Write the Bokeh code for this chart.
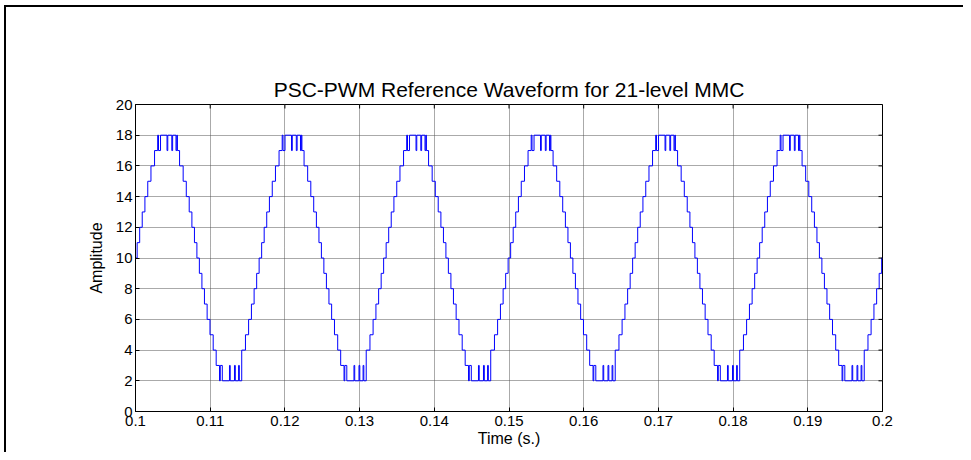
from bokeh.plotting import figure
from bokeh.models import Range1d, FixedTicker
from bokeh.embed import file_html
from bokeh.resources import INLINE

# ---------------- data ----------------
title_text = "PSC-PWM Reference Waveform for 21-level MMC"
x_label = "Time (s.)"
y_label = "Amplitude"

x_ticks = [0.1, 0.11, 0.12, 0.13, 0.14, 0.15, 0.16, 0.17, 0.18, 0.19, 0.2]
x_tick_labels = ["0.1", "0.11", "0.12", "0.13", "0.14", "0.15",
                 "0.16", "0.17", "0.18", "0.19", "0.2"]
y_ticks = [0, 2, 4, 6, 8, 10, 12, 14, 16, 18, 20]

t_start = 0.1          # s
t_end = 0.2            # s
y_min = 0
y_max = 20
period_ms = 16.667     # six identical cycles between 0.1 and 0.2 s
n_cycles = 6

# one cycle of the staircase: step start times (ms from cycle start) and level
cycle_offsets_ms = [
    0.00, 0.22, 0.56, 0.90, 1.26, 1.64, 2.07, 2.55,          # rising 10 -> 17
    2.97, 3.08, 3.35, 4.22, 4.32, 4.86, 4.97, 5.42, 5.53, 5.61,  # PWM at peak
    5.90, 6.38, 6.80, 7.19, 7.55, 7.89, 8.22, 8.55, 8.89, 9.23, 9.59, 9.97, 10.40,  # falling
    10.80, 11.25, 11.35, 11.62, 12.58, 12.68, 13.25, 13.36, 13.80, 13.90,  # PWM at trough
    14.22, 14.72, 15.14, 15.52, 15.88, 16.22, 16.55,          # rising 4 -> 10
]
cycle_levels = [
    10, 11, 12, 13, 14, 15, 16, 17,
    18, 17, 18, 17, 18, 17, 18, 17, 18, 17,
    16, 15, 14, 13, 12, 11, 10, 9, 8, 7, 6, 5, 4,
    3, 2, 3, 2, 3, 2, 3, 2, 3, 2,
    4, 5, 6, 7, 8, 9, 10,
]

# ---------------- build the step series ----------------
xs, ys = [], []
for c in range(n_cycles):
    for off, lev in zip(cycle_offsets_ms, cycle_levels):
        xs.append(t_start + (c * period_ms + off) / 1000.0)
        ys.append(lev)
xs.append(t_end)
ys.append(cycle_levels[-1])

FONT = "Liberation Sans"
W, H = 963, 452

# outer figure frame: top and left edge lines drawn as the element background
frame_bg = ("linear-gradient(#000, #000) 4px 5px / 100% 2px no-repeat, "
            "linear-gradient(#000, #000) 4px 5px / 2px 100% no-repeat, #fff")

p = figure(width=W, height=H, output_backend="svg", toolbar_location=None,
           x_range=Range1d(t_start, t_end), y_range=Range1d(y_min, y_max),
           min_border_left=135, min_border_right=81, min_border_top=104,
           min_border_bottom=41,
           styles={"background": frame_bg})

p.step(xs, ys, mode="after", line_color="#0000ff", line_width=1)

# inward box ticks on top and right edges (positions from the tick lists)
tick_dx = (t_end - t_start) * 4 / 747.0
tick_dy = (y_max - y_min) * 4 / 307.0
p.segment(x0=x_ticks, y0=[y_max] * len(x_ticks), x1=x_ticks,
          y1=[y_max - tick_dy] * len(x_ticks), line_color="black", line_width=1)
p.segment(x0=[t_end] * len(y_ticks), y0=y_ticks, x1=[t_end - tick_dx] * len(y_ticks),
          y1=y_ticks, line_color="black", line_width=1)

p.outline_line_color = "black"
p.outline_line_width = 1
p.background_fill_color = "white"
p.border_fill_color = None

# title
p.title.text = title_text
p.title.align = "center"
p.title.text_font = FONT
p.title.text_font_size = "21px"
p.title.text_font_style = "normal"
p.title.text_color = "black"
p.title.standoff = 7

# axes
for ax in [p.xaxis[0], p.yaxis[0]]:
    ax.axis_line_color = "black"
    ax.major_tick_in = 4
    ax.major_tick_out = 0
    ax.minor_tick_line_color = None
    ax.major_label_text_font = FONT
    ax.major_label_text_font_size = "15px"
    ax.major_label_text_color = "black"
    ax.axis_label_text_font = FONT
    ax.axis_label_text_font_size = "16px"
    ax.axis_label_text_font_style = "normal"
    ax.axis_label_text_color = "black"

p.xaxis[0].ticker = FixedTicker(ticks=x_ticks)
p.xaxis[0].major_label_overrides = {t: l for t, l in zip(x_ticks, x_tick_labels)}
p.xaxis[0].axis_label = x_label
p.xaxis[0].major_label_standoff = 4
p.xaxis[0].axis_label_standoff = 1

p.yaxis[0].ticker = FixedTicker(ticks=y_ticks)
p.yaxis[0].major_label_overrides = {t: str(t) for t in y_ticks}
p.yaxis[0].axis_label = y_label
p.yaxis[0].major_label_standoff = 3
p.yaxis[0].axis_label_standoff = 8

# grid
for g in [p.xgrid[0], p.ygrid[0]]:
    g.grid_line_color = "#555555"
    g.grid_line_dash = "1 1"
    g.grid_line_width = 1
p.xgrid[0].ticker = FixedTicker(ticks=x_ticks)
p.ygrid[0].ticker = FixedTicker(ticks=y_ticks)

open("out.html", "w").write(file_html(p, INLINE))
